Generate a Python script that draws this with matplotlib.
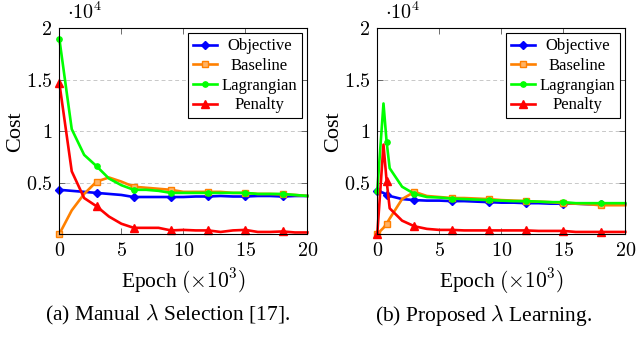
import numpy as np
import matplotlib
matplotlib.use("Agg")
import matplotlib.pyplot as plt

plt.rcParams['font.family'] = ['Liberation Serif', 'DejaVu Serif']
plt.rcParams['mathtext.fontset'] = 'cm'

# (a) manual lambda selection, epoch in 1e3, cost in 1e4
epoch_a = [0, 1, 2, 3, 4, 5, 6, 7, 8, 9, 10, 11, 12, 13, 14, 15, 16, 17, 18, 19, 20]
obj_a = [0.43, 0.42, 0.41, 0.40, 0.39, 0.38, 0.36, 0.36, 0.36, 0.36, 0.36,
         0.365, 0.365, 0.37, 0.365, 0.365, 0.37, 0.37, 0.365, 0.37, 0.37]
base_a = [0.0, 0.23, 0.39, 0.51, 0.55, 0.51, 0.46, 0.45, 0.44, 0.43, 0.41,
          0.41, 0.41, 0.41, 0.40, 0.40, 0.39, 0.39, 0.385, 0.38, 0.37]
lag_a = [1.90, 1.02, 0.77, 0.66, 0.54, 0.475, 0.43, 0.43, 0.42, 0.40, 0.40,
         0.40, 0.40, 0.40, 0.40, 0.40, 0.39, 0.39, 0.39, 0.38, 0.37]
pen_a = [1.47, 0.61, 0.35, 0.27, 0.17, 0.10, 0.06, 0.06, 0.06, 0.035, 0.04,
         0.035, 0.035, 0.02, 0.035, 0.04, 0.02, 0.02, 0.025, 0.015, 0.015]
marks_a = [0, 3, 6, 9, 12, 15, 18]

# (b) proposed lambda learning
epoch_b = [0, 0.5, 0.75, 1, 2, 3, 4, 5, 6, 7, 8, 9, 10, 11, 12, 13, 14, 15,
           16, 17, 18, 19, 20]
obj_b = [0.42, 0.40, 0.38, 0.37, 0.34, 0.33, 0.325, 0.325, 0.32, 0.32, 0.315,
         0.31, 0.305, 0.305, 0.30, 0.30, 0.295, 0.295, 0.295, 0.29, 0.29, 0.29, 0.29]
base_b = [0.0, 0.06, 0.10, 0.15, 0.34, 0.41, 0.37, 0.36, 0.35, 0.35, 0.345,
          0.34, 0.33, 0.325, 0.32, 0.315, 0.31, 0.30, 0.295, 0.29, 0.28, 0.28, 0.28]
lag_b = [0.42, 1.27, 0.90, 0.64, 0.46, 0.39, 0.36, 0.355, 0.345, 0.34, 0.335,
         0.33, 0.325, 0.32, 0.32, 0.315, 0.31, 0.31, 0.30, 0.30, 0.30, 0.30, 0.30]
pen_b = [0.0, 0.87, 0.52, 0.25, 0.13, 0.075, 0.05, 0.04, 0.04, 0.035, 0.035,
         0.035, 0.035, 0.035, 0.035, 0.03, 0.03, 0.03, 0.02, 0.02, 0.02, 0.02, 0.02]
marks_b = [0, 0.75, 3, 6, 9, 12, 15, 18]

names = ['Objective', 'Baseline', 'Lagrangian', 'Penalty']
colors = ['#0000ff', '#ff8000', '#00ff00', '#ff0000']
markers = ['D', 's', 'o', '^']
msizes = [4.5, 4.5, 3.8, 5.5]
yticks = [0.5, 1, 1.5, 2]
ytick_labels = ['$0.5$', '$1$', '$1.5$', '$2$']
xticks = [0, 5, 10, 15, 20]
xtick_labels = ['$0$', '$5$', '$10$', '$15$', '$20$']
captions = [r'(a) Manual $\lambda$ Selection [17].', r'(b) Proposed $\lambda$ Learning.']

fig = plt.figure(figsize=(6.36, 3.37), dpi=100)
ax_a = fig.add_axes([0.0933, 0.3056, 0.39, 0.610])
ax_b = fig.add_axes([0.5932, 0.3056, 0.39, 0.610])

panels = [(ax_a, epoch_a, [obj_a, base_a, lag_a, pen_a], marks_a),
          (ax_b, epoch_b, [obj_b, base_b, lag_b, pen_b], marks_b)]

legends = []
for ax, xs, series, marks in panels:
    idx = [xs.index(m) for m in marks]
    for ys, name, c, m, ms in zip(series, names, colors, markers, msizes):
        face = '#ffb366' if m == 's' else c
        ax.plot(xs, np.array(ys) * 1e4, color=c, lw=1.9, marker=m, ms=ms,
                markevery=idx, mfc=face, mec=c, label=name, clip_on=False)
    ax.set_xlim(0, 20)
    ax.set_ylim(0, 2e4)
    ax.set_xticks(xticks)
    ax.set_xticklabels(xtick_labels)
    ax.set_yticks([v * 1e4 for v in yticks])
    ax.set_yticklabels(ytick_labels)
    ax.tick_params(direction='in', top=True, right=True, labelsize=14.5,
                   length=4, width=0.6, color='#555555')
    ax.tick_params(axis='x', pad=5.5)
    ax.tick_params(axis='y', pad=5)
    ax.yaxis.grid(True, color='#c8c8c8', ls=(0, (4, 3)), lw=0.7)
    ax.set_axisbelow(True)
    for s in ax.spines.values():
        s.set_linewidth(0.8)
    ax.set_ylabel('Cost', fontsize=16, va='center')
    ax.yaxis.set_label_coords(-0.175, 0.5)
    ax.set_xlabel(r'Epoch $(\times 10^3)$', fontsize=15.5, va='center')
    ax.xaxis.set_label_coords(0.5, -0.228)
    ax.text(0.032, 1.02, r'$\cdot 10^4$', transform=ax.transAxes,
            fontsize=14.5, va='bottom', ha='left')
    leg = ax.legend(loc='upper right', fontsize=12, frameon=True, fancybox=False,
                    edgecolor='black', framealpha=1, handlelength=1.4,
                    borderpad=0.3, labelspacing=0.22, handletextpad=0.3,
                    borderaxespad=0.3)
    leg.get_frame().set_linewidth(0.8)
    legends.append(leg)

fig.text(168 / 636, 1 - 315 / 337, captions[0], ha='center', va='center', fontsize=15.5)
fig.text(484 / 636, 1 - 315 / 337, captions[1], ha='center', va='center', fontsize=15.5)

# centre the legend labels like pgfplots does
fig.canvas.draw()
for leg in legends:
    widths = [t.get_window_extent().width for t in leg.get_texts()]
    wmax = max(widths)
    for t, w in zip(leg.get_texts(), widths):
        t.set_x((wmax - w) / 2)

fig.savefig('out.png', dpi=100)
